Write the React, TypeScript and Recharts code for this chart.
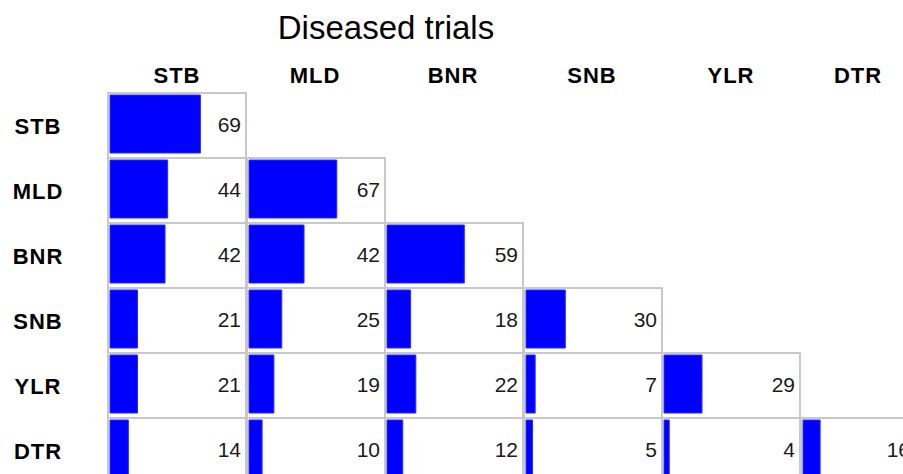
import React from 'react';
import { Bar, BarChart, LabelList, XAxis, YAxis } from 'recharts';

const diseases = ['STB', 'MLD', 'BNR', 'SNB', 'YLR', 'DTR'];

// lower-triangular counts, one row per disease
const stbRow = [69];
const mldRow = [44, 67];
const bnrRow = [42, 42, 59];
const snbRow = [21, 25, 18, 30];
const ylrRow = [21, 19, 22, 7, 29];
const dtrRow = [14, 10, 12, 5, 4, 16];
const rows = [stbRow, mldRow, bnrRow, snbRow, ylrRow, dtrRow];

const colCenters = [177, 315, 453, 592, 731, 858];
// the last column is drawn narrower than the others
const colWidths = [136, 136, 136, 136, 136, 112];

const CELL_LEFT = 107;
const CELL_TOP = 92;
const PITCH_X = 138.5;
const PITCH_Y = 65;
const CHART_H = 63;
const FONT = '"Liberation Sans", Arial, sans-serif';

const Cell: React.FC<{ name: string; value: number; width: number }> = ({ name, value, width }) => (
	<BarChart
		width={width}
		height={CHART_H}
		layout="vertical"
		data={[{ name, value }]}
		margin={{ top: 1, right: 4, bottom: 4, left: 1 }}
		barCategoryGap={0}
	>
		<XAxis type="number" domain={[0, 100]} hide />
		<YAxis type="category" dataKey="name" hide />
		<Bar dataKey="value" fill="#0000ff" stroke="#2a2aff" strokeWidth={1} isAnimationActive={false}>
			<LabelList
				dataKey="value"
				content={(p: any) => (
					<text
						x={width - 4}
						y={Number(p.y) + Number(p.height) / 2}
						textAnchor="end"
						dominantBaseline="central"
						fontSize={21}
						fontFamily={FONT}
						fill="#1a1a1a"
					>
						{p.value}
					</text>
				)}
			/>
		</Bar>
	</BarChart>
);

export default function App() {
	return (
		<div style={{ position: 'absolute', left: 0, top: 0, width: 903, height: 474, overflow: 'hidden', background: '#fff' }}>
			<svg width={903} height={474} style={{ position: 'absolute', left: 0, top: 0 }}>
				<text x={386} y={39} textAnchor="middle" fontSize={33} fontFamily={FONT} fill="#000">
					Diseased trials
				</text>
				{diseases.map((d, i) => (
					<text key={'c' + d} x={colCenters[i]} y={83} textAnchor="middle" fontSize={22} fontWeight="bold" letterSpacing={1} fontFamily={FONT} fill="#000">
						{d}
					</text>
				))}
				{diseases.map((d, i) => (
					<text key={'r' + d} x={38} y={134 + PITCH_Y * i} textAnchor="middle" fontSize={22} fontWeight="bold" letterSpacing={1} fontFamily={FONT} fill="#000">
						{d}
					</text>
				))}
			</svg>
			{rows.map((row, r) =>
				row.map((v, c) => (
					<div
						key={r + '-' + c}
						style={{
							position: 'absolute',
							left: CELL_LEFT + PITCH_X * c,
							top: CELL_TOP + PITCH_Y * r,
							width: colWidths[c] + 4,
							height: CHART_H + 4,
							border: '2px solid #c8c8c8',
							boxSizing: 'border-box',
							background: '#fff'
						}}
					>
						<Cell name={diseases[r] + '-' + diseases[c]} value={v} width={colWidths[c]} />
					</div>
				))
			)}
		</div>
	);
}
